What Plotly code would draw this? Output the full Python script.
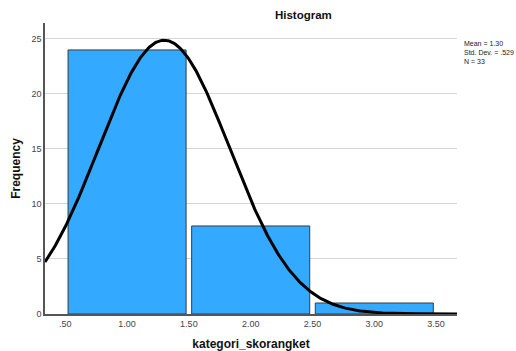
import numpy as np
import plotly.graph_objects as go

# Histogram data
bin_centers = [1.0, 2.0, 3.0]
frequencies = [24, 8, 1]
x_tick_vals = [0.5, 1.0, 1.5, 2.0, 2.5, 3.0, 3.5]
x_tick_text = [".50", "1.00", "1.50", "2.00", "2.50", "3.00", "3.50"]
y_tick_vals = [0, 5, 10, 15, 20, 25]

# Summary statistics (as shown in the chart)
mean_val = 1.30
std_val = 0.529
n_val = 33
bin_width = 1.0

x_range = [0.336, 3.669]
y_range = [0, 26.45]

# Normal curve scaled to frequencies
xc = np.linspace(x_range[0], x_range[1], 400)
yc = n_val * bin_width / (std_val * np.sqrt(2 * np.pi)) * np.exp(-0.5 * ((xc - mean_val) / std_val) ** 2)

fig = go.Figure()
fig.add_trace(go.Bar(
    x=bin_centers, y=frequencies, width=0.955,
    marker=dict(color="#33aaff", line=dict(color="#3a3a3a", width=1)),
    hoverinfo="x+y",
))
fig.add_trace(go.Scatter(
    x=xc, y=yc, mode="lines",
    line=dict(color="#000000", width=3),
    hoverinfo="skip",
))

fig.update_layout(
    width=516, height=351,
    margin=dict(l=45, r=59, t=23, b=37, autoexpand=False),
    paper_bgcolor="white", plot_bgcolor="white",
    showlegend=False,
    font=dict(family="Liberation Sans, Arial, sans-serif", color="#333333", size=9),
    title=dict(text="<b>Histogram</b>", x=0.588, xanchor="center", y=0.957, yanchor="middle",
               font=dict(size=11.5, color="#111111")),
    xaxis=dict(
        range=x_range, tickvals=x_tick_vals, ticktext=x_tick_text, automargin=False,
        showgrid=False, zeroline=False, showline=True, linecolor="#555555", linewidth=1.5,
        ticks="", tickfont=dict(size=9, color="#444444"),
        title=dict(text="<b>kategori_skorangket</b>", font=dict(size=12, color="#111111"), standoff=14),
    ),
    yaxis=dict(
        range=y_range, tickvals=y_tick_vals, automargin=False,
        showgrid=True, gridcolor="#d6d6d6", gridwidth=1,
        zeroline=False, showline=True, linecolor="#555555", linewidth=1.5,
        ticks="", tickfont=dict(size=9, color="#444444"),
        title=dict(text="<b>Frequency</b>", font=dict(size=12, color="#111111"), standoff=8),
    ),
    annotations=[dict(
        text="Mean = 1.30<br>Std. Dev. = .529<br>N = 33",
        xref="paper", yref="paper", x=1.013, y=0.95, xanchor="left", yanchor="top",
        align="left", showarrow=False,
        font=dict(size=7, color="#222222"),
    )],
)

fig.write_html(
    "out.html",
    config={"displayModeBar": False},
    post_script="document.body.style.margin='0';document.body.style.padding='0';document.body.style.overflow='hidden';",
)
